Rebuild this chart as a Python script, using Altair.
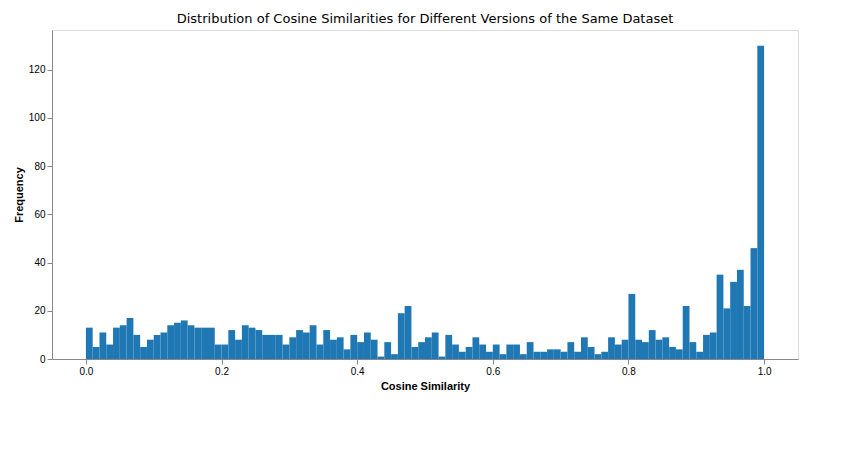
import altair as alt
import pandas as pd

counts = [13,5,11,6,13,14,17,10,5,8,10,11,14,15,16,14,13,13,13,6,
          6,12,8,14,13,12,10,10,10,6,9,12,11,14,6,12,8,9,4,10,
          7,11,8,1,7,2,19,22,5,7,9,11,1,10,6,3,5,9,6,3,
          6,2,6,6,2,7,3,3,4,4,3,7,3,9,5,2,3,9,6,8,
          27,8,7,12,8,9,5,4,22,7,3,10,11,35,21,32,37,22,46,130]
starts = [i/100 for i in range(100)]
ends = [(i+1)/100 for i in range(100)]
df = pd.DataFrame({"start": starts, "end": ends, "count": counts})

chart = alt.Chart(df).mark_bar(color="#1f77b4", strokeWidth=0).encode(
    x=alt.X("start:Q", scale=alt.Scale(domain=[-0.05, 1.05], nice=False, zero=False),
            axis=alt.Axis(values=[0,0.2,0.4,0.6,0.8,1.0], format=".1f", title="Cosine Similarity", grid=False)),
    x2="end:Q",
    y=alt.Y("count:Q", scale=alt.Scale(domain=[0, 136.5], nice=False),
            axis=alt.Axis(values=[0,20,40,60,80,100,120], title="Frequency", grid=False)),
    y2=alt.datum(0),
).properties(
    width=795, height=388,
    title=alt.Title("Distribution of Cosine Similarities for Different Versions of the Same Dataset",
                    fontSize=13, fontWeight="normal", font="DejaVu Sans", color="black"),
).configure_view(stroke="black", strokeWidth=1).configure_axis(
    labelFont="DejaVu Sans", titleFont="DejaVu Sans", labelFontSize=11, titleFontSize=11,
    titleFontWeight="normal", labelColor="black", titleColor="black",
    domainColor="black", tickColor="black", tickSize=4
).configure(background="white", autosize=alt.AutoSizeParams(type="fit", contains="padding"))

chart.save("out.html", embed_options={"renderer": "svg", "actions": False})
